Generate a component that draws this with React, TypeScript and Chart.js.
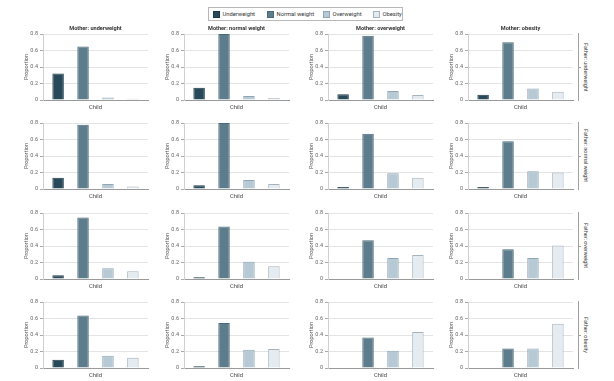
import React, { useEffect, useRef } from "react";
import { Chart, registerables } from "chart.js";

Chart.register(...registerables);

const seriesLabels = ["Underweight", "Normal weight", "Overweight", "Obesity"];
const motherLabels = ["Mother: underweight", "Mother: normal weight", "Mother: overweight", "Mother: obesity"];
const fatherLabels = ["Father: underweight", "Father: normal weight", "Father: overweight", "Father: obesity"];
const xCategory = ["Child"];
const yTicks = [0, 0.2, 0.4, 0.6, 0.8];

// values per mother category: [Underweight, Normal weight, Overweight, Obesity]
const fatherUnderweight = [
  [0.32, 0.65, 0.03, 0.015],
  [0.15, 0.8, 0.05, 0.025],
  [0.07, 0.78, 0.11, 0.06],
  [0.065, 0.7, 0.14, 0.1],
];
const fatherNormal = [
  [0.135, 0.78, 0.06, 0.03],
  [0.045, 0.8, 0.11, 0.06],
  [0.025, 0.67, 0.19, 0.135],
  [0.025, 0.58, 0.215, 0.2],
];
const fatherOverweight = [
  [0.045, 0.745, 0.13, 0.095],
  [0.02, 0.635, 0.21, 0.155],
  [0, 0.47, 0.255, 0.29],
  [0, 0.36, 0.255, 0.405],
];
const fatherObesity = [
  [0.1, 0.635, 0.15, 0.125],
  [0.02, 0.545, 0.22, 0.23],
  [0, 0.37, 0.21, 0.435],
  [0, 0.235, 0.235, 0.535],
];
const panelRows = [fatherUnderweight, fatherNormal, fatherOverweight, fatherObesity];

const fillColors = ["#27495a", "#5d7d8d", "#b6c9d5", "#e4ebf1"];
const borderColors = ["#1d3946", "#4b6a79", "#90a6b4", "#a6b3bc"];

const FONT = "Roboto, 'Liberation Sans', sans-serif";
const colAxisX = [43, 184, 328, 468];
const rowPlotTop = [34, 123, 213, 302];
const PLOT_W = 105;
const PLOT_H = 66;
const Y_AXIS_W = 22;
const X_AXIS_H = 14;
const TITLE_SPACE = 12;
const TOP_PAD = 6;

const panelTitlePlugin = {
  id: "panelTitle",
  afterDraw(chart: any, _args: any, opts: any) {
    if (!opts || !opts.text) return;
    const { ctx, chartArea } = chart;
    ctx.save();
    ctx.font = `bold 5.6px ${FONT}`;
    ctx.fillStyle = "#333";
    ctx.textAlign = "center";
    ctx.textBaseline = "middle";
    ctx.fillText(opts.text, (chartArea.left + chartArea.right) / 2, chartArea.top - 5);
    ctx.restore();
  },
};

function Panel({ r, c }: { r: number; c: number }) {
  const ref = useRef<HTMLCanvasElement | null>(null);
  const topSpace = r === 0 ? TITLE_SPACE : TOP_PAD;
  const width = Y_AXIS_W + PLOT_W + 2;
  const height = Math.round(topSpace + PLOT_H + X_AXIS_H);
  const left = colAxisX[c] - Y_AXIS_W;
  const top = Math.round(rowPlotTop[r] - topSpace);

  useEffect(() => {
    if (!ref.current) return;
    const values = panelRows[r][c];
    const chart = new Chart(ref.current, {
      type: "bar",
      data: {
        labels: xCategory,
        datasets: seriesLabels.map((s, i) => ({
          label: s,
          data: [values[i]],
          backgroundColor: fillColors[i],
          borderColor: borderColors[i],
          borderWidth: 1,
          categoryPercentage: 0.95,
          barPercentage: 0.46,
        })),
      },
      plugins: [panelTitlePlugin],
      options: {
        responsive: false,
        animation: false,
        layout: { padding: { top: topSpace, right: 2, left: 0, bottom: 0 } },
        plugins: {
          legend: { display: false },
          tooltip: { enabled: false },
          title: { display: false },
          panelTitle: { text: r === 0 ? motherLabels[c] : "" },
        },
        scales: {
          x: {
            grid: { display: false, drawTicks: false },
            border: { display: true, color: "#9a9a9a" },
            ticks: { font: { size: 5.8, family: FONT }, color: "#444", padding: 4 },
            afterFit: (s: any) => {
              s.height = X_AXIS_H;
            },
          },
          y: {
            min: 0,
            max: 0.8,
            afterBuildTicks: (s: any) => {
              s.ticks = yTicks.map((v) => ({ value: v }));
            },
            ticks: {
              font: { size: 5.5, family: FONT },
              color: "#666",
              padding: 2,
              callback: (v: any) => (Number(v) === 0 ? "0" : Number(v).toFixed(1)),
            },
            grid: { color: "#e4e4e4", tickLength: 3, tickColor: "#aaa" },
            border: { display: true, color: "#d0d0d0" },
            title: {
              display: true,
              text: "Proportion",
              font: { size: 5.5, family: FONT },
              color: "#555",
              padding: { top: 2, bottom: 0 },
            },
            afterFit: (s: any) => {
              s.width = Y_AXIS_W;
            },
          },
        },
      } as any,
    });
    return () => chart.destroy();
  }, [r, c]);

  return (
    <canvas
      ref={ref}
      width={width}
      height={height}
      style={{ position: "absolute", left, top, width, height }}
    />
  );
}

const legendSwatchX = [213, 267, 323, 373];

export default function App() {
  return (
    <div
      style={{
        position: "absolute",
        left: 0,
        top: 0,
        width: 614,
        height: 381,
        background: "#fff",
        overflow: "hidden",
        fontFamily: FONT,
      }}
    >
      <div
        style={{
          position: "absolute",
          left: 208,
          top: 7,
          width: 195,
          height: 14,
          border: "1px solid #b8b8b8",
          boxSizing: "border-box",
        }}
      />
      {seriesLabels.map((s, i) => (
        <React.Fragment key={s}>
          <div
            style={{
              position: "absolute",
              left: legendSwatchX[i],
              top: 10.5,
              width: 7,
              height: 7,
              background: fillColors[i],
              border: `1px solid ${borderColors[i]}`,
              boxSizing: "border-box",
            }}
          />
          <div
            style={{
              position: "absolute",
              left: legendSwatchX[i] + 9.5,
              top: 9.5,
              fontSize: 5.8,
              lineHeight: "9px",
              color: "#333",
              whiteSpace: "nowrap",
            }}
          >
            {s}
          </div>
        </React.Fragment>
      ))}
      {panelRows.map((row, r) =>
        row.map((_, c) => <Panel key={`${r}-${c}`} r={r} c={c} />)
      )}
      {fatherLabels.map((f, r) => (
        <React.Fragment key={f}>
          <div
            style={{
              position: "absolute",
              left: 578,
              top: rowPlotTop[r] - 1,
              width: 0,
              height: PLOT_H + 2,
              borderLeft: "1px solid #a0a0a0",
            }}
          />
          <div
            style={{
              position: "absolute",
              left: 578,
              top: rowPlotTop[r] + PLOT_H / 2,
              width: 3,
              height: 0,
              borderTop: "1px solid #a0a0a0",
            }}
          />
          <div
            style={{
              position: "absolute",
              left: 582,
              top: rowPlotTop[r],
              height: PLOT_H,
              width: 8,
              display: "flex",
              alignItems: "center",
              justifyContent: "center",
            }}
          >
            <div
              style={{
                writingMode: "vertical-rl",
                fontSize: 5.5,
                lineHeight: "8px",
                color: "#333",
                whiteSpace: "nowrap",
              }}
            >
              {f}
            </div>
          </div>
        </React.Fragment>
      ))}
    </div>
  );
}
